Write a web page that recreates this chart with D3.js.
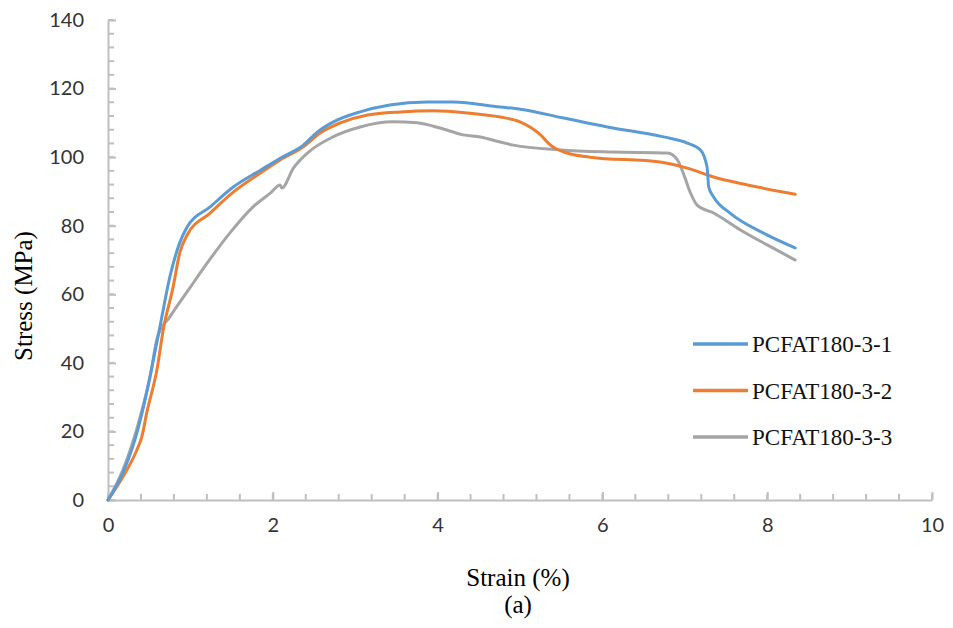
<!DOCTYPE html>
<html>
<head>
<meta charset="utf-8">
<script src="https://cdn.jsdelivr.net/npm/d3@7"></script>
<style>
  body { margin: 0; background: #fff; }
  svg { display: block; }
</style>
</head>
<body>
<svg id="chart" width="953" height="628"></svg>
<script>
// === DATA: strain (%) vs stress (MPa) for three specimens ===
const seriesNames = ["PCFAT180-3-1", "PCFAT180-3-2", "PCFAT180-3-3"];
const seriesColors = ["#5B9BD5", "#ED7D31", "#A5A5A5"];

const strain1 = [0, 0.18, 0.30, 0.43, 0.55, 0.63, 0.75, 0.87, 0.96, 1.24, 1.52, 1.85, 2.09, 2.37, 2.54, 2.73, 3.06, 3.42, 3.87, 4.19, 4.76, 5.00, 5.53, 6.06, 6.74, 7.03, 7.19, 7.27, 7.29, 7.35, 7.55, 7.95, 8.34];
const stress1 = [0, 7.9, 15.5, 27.1, 40.8, 50.5, 65.0, 75.0, 79.6, 85.5, 91.3, 96.2, 99.7, 103.5, 107.3, 110.2, 113.2, 115.2, 116.1, 116.1, 114.6, 114.0, 111.4, 108.8, 105.9, 104.1, 102.1, 97.1, 91.3, 88.4, 83.7, 77.9, 73.5];

const strain2 = [0, 0.18, 0.35, 0.41, 0.47, 0.60, 0.67, 0.79, 0.87, 0.96, 1.24, 1.52, 1.85, 2.09, 2.37, 2.57, 2.82, 3.15, 3.55, 3.95, 4.36, 4.76, 5.00, 5.25, 5.37, 5.53, 5.85, 6.70, 7.03, 7.35, 7.76, 8.34];
const stress2 = [0, 6.7, 14.6, 18.4, 25.4, 38.8, 49.6, 62.1, 72.0, 77.3, 83.7, 89.8, 95.4, 99.2, 103.0, 107.0, 110.0, 112.3, 113.2, 113.5, 112.9, 111.7, 110.3, 106.5, 103.5, 101.5, 100.0, 98.6, 96.8, 94.2, 91.9, 89.2];

const strain3 = [0, 0.18, 0.39, 0.51, 0.60, 0.75, 1.00, 1.24, 1.48, 1.76, 1.97, 2.09, 2.11, 2.25, 2.42, 2.73, 3.06, 3.46, 3.75, 4.03, 4.31, 4.52, 4.76, 4.92, 5.49, 6.13, 6.79, 6.91, 6.98, 7.07, 7.15, 7.35, 7.68, 8.00, 8.34];
const stress3 = [0, 8.7, 24.2, 35.9, 47.5, 53.4, 62.1, 70.3, 77.9, 85.5, 89.5, 91.9, 91.0, 96.8, 101.2, 105.9, 108.8, 110.3, 110.0, 108.5, 106.5, 105.9, 104.4, 103.5, 102.1, 101.5, 101.2, 99.2, 95.4, 89.5, 86.0, 83.7, 78.7, 74.4, 70.0];

const xTicks = [0, 2, 4, 6, 8, 10];
const yTicks = [0, 20, 40, 60, 80, 100, 120, 140];

// === SETUP ===
const svg = d3.select("#chart");
const plot = { left: 108, right: 932, top: 20, bottom: 500 };
const axisColor = "#BFBFBF";

const x = d3.scaleLinear().domain([0, 10]).range([plot.left, plot.right]);
const y = d3.scaleLinear().domain([0, 140]).range([plot.bottom, plot.top]);

// minor ticks (inside the plot)
const xMinor = d3.range(0, 10.001, 0.4);
const yMinor = d3.range(0, 140.001, 4);

svg.append("g").selectAll("line")
  .data(xMinor)
  .join("line")
  .attr("x1", d => x(d)).attr("x2", d => x(d))
  .attr("y1", plot.bottom).attr("y2", plot.bottom - 6)
  .attr("stroke", axisColor).attr("stroke-width", 2);

svg.append("g").selectAll("line")
  .data(yMinor)
  .join("line")
  .attr("x1", plot.left).attr("x2", plot.left + 6)
  .attr("y1", d => y(d)).attr("y2", d => y(d))
  .attr("stroke", axisColor).attr("stroke-width", 2);

// === AXES ===
const xAxis = svg.append("g")
  .attr("transform", `translate(0,${plot.bottom})`)
  .call(d3.axisBottom(x).tickValues(xTicks).tickSizeInner(-8).tickSizeOuter(0).tickPadding(18));

const yAxis = svg.append("g")
  .attr("transform", `translate(${plot.left},0)`)
  .call(d3.axisLeft(y).tickValues(yTicks).tickSizeInner(-8).tickSizeOuter(0).tickPadding(24));

[xAxis, yAxis].forEach(g => {
  g.select(".domain").attr("stroke", axisColor).attr("stroke-width", 2);
  g.selectAll(".tick line").attr("stroke", axisColor).attr("stroke-width", 2);
  g.selectAll(".tick text")
    .attr("fill", "#333")
    .style("font-family", "Lato, 'Open Sans', sans-serif")
    .style("font-size", "20px");
});

// axis titles
svg.append("text")
  .attr("x", 518).attr("y", 586)
  .attr("text-anchor", "middle")
  .style("font-family", "'Liberation Serif', 'Times New Roman', serif")
  .style("font-size", "25px")
  .text("Strain (%)");

svg.append("text")
  .attr("x", 518).attr("y", 613)
  .attr("text-anchor", "middle")
  .style("font-family", "'Liberation Serif', 'Times New Roman', serif")
  .style("font-size", "25px")
  .text("(a)");

svg.append("text")
  .attr("transform", `translate(32,${(plot.top + plot.bottom) / 2 + 36}) rotate(-90)`)
  .attr("text-anchor", "middle")
  .style("font-family", "'Liberation Serif', 'Times New Roman', serif")
  .style("font-size", "25px")
  .text("Stress (MPa)");

// === CURVES ===
const series = [
  strain1.map((s, i) => [s, stress1[i]]),
  strain2.map((s, i) => [s, stress2[i]]),
  strain3.map((s, i) => [s, stress3[i]])
];

const line = d3.line()
  .x(d => x(d[0]))
  .y(d => y(d[1]))
  .curve(d3.curveMonotoneX);

// draw last series first so blue sits on top
[2, 1, 0].forEach(i => {
  svg.append("path")
    .datum(series[i])
    .attr("fill", "none")
    .attr("stroke", seriesColors[i])
    .attr("stroke-width", 3)
    .attr("stroke-linejoin", "round")
    .attr("stroke-linecap", "round")
    .attr("d", line);
});

// === LEGEND ===
const legend = svg.append("g").attr("transform", "translate(693,344)");
seriesNames.forEach((name, i) => {
  const row = legend.append("g").attr("transform", `translate(0,${i * 46.5})`);
  row.append("line")
    .attr("x1", 0).attr("x2", 55)
    .attr("stroke", seriesColors[i]).attr("stroke-width", 3.5);
  row.append("text")
    .attr("x", 59).attr("y", 8)
    .style("font-family", "'Liberation Serif', 'Times New Roman', serif")
    .style("font-size", "23px")
    .attr("fill", "#111")
    .text(name);
});
</script>
</body>
</html>
